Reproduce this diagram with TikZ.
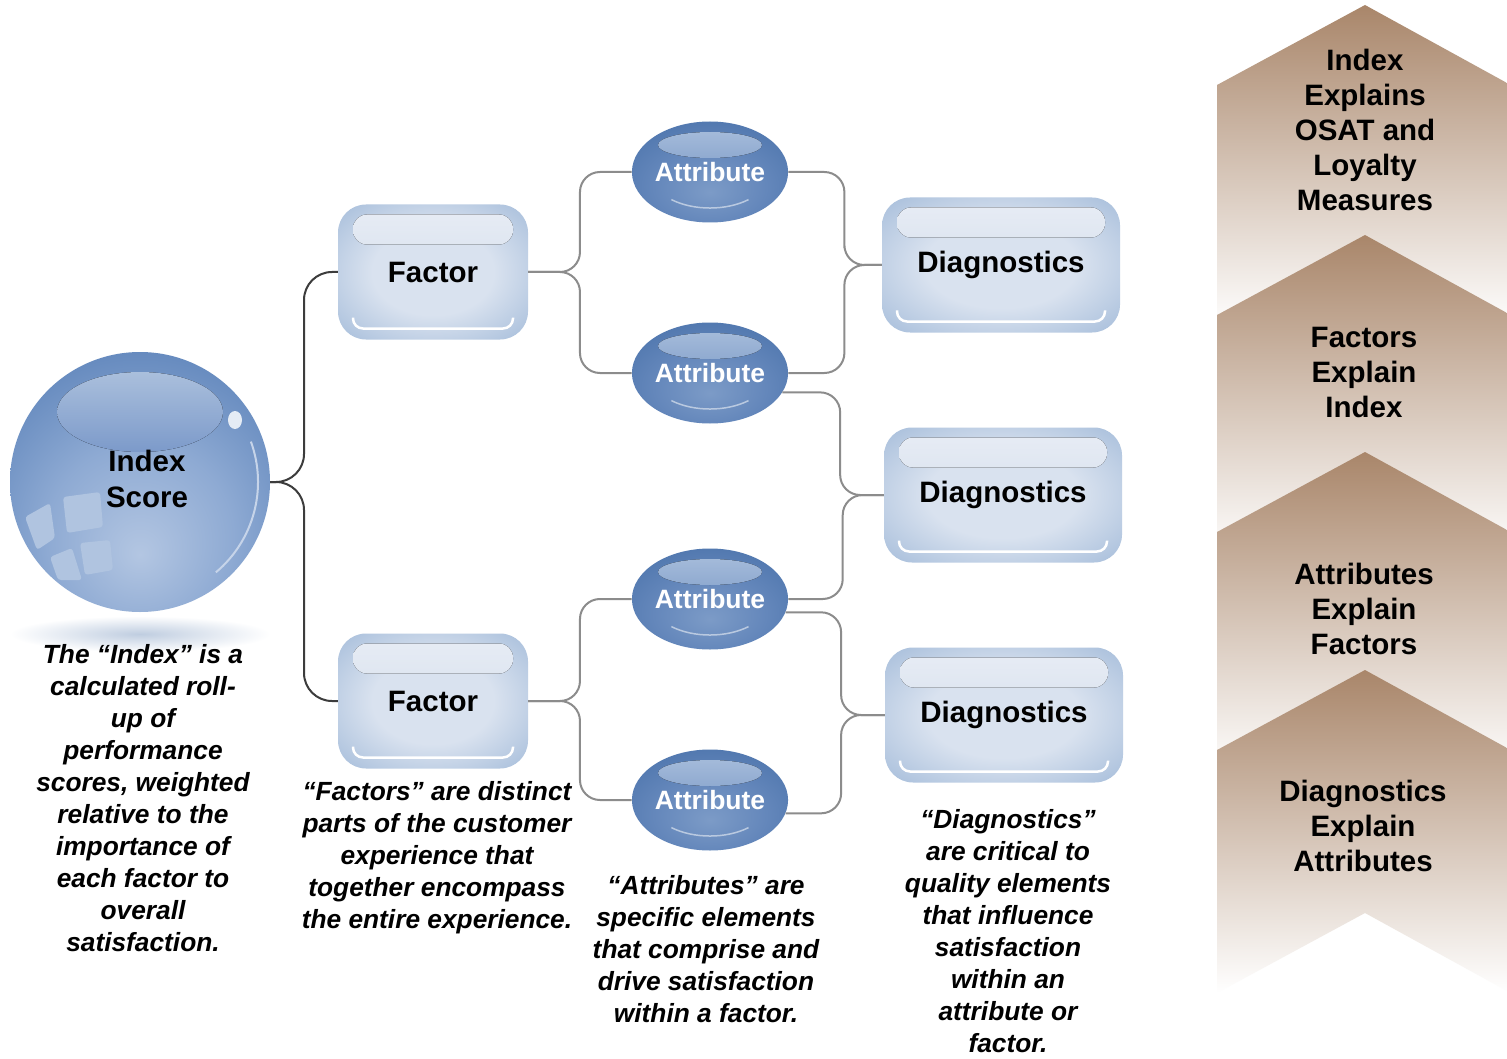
\documentclass[tikz,border=0pt]{standalone}
\usepackage{fontspec}
\setmainfont{Liberation Sans}
\usepackage{tikz}
\usetikzlibrary{shapes.geometric}
\usetikzlibrary{calc}

\definecolor{boxcore}{HTML}{D9E2EF}
\definecolor{boxmid}{HTML}{AAC0DC}
\definecolor{boxrim}{HTML}{8FAACF}
\definecolor{boxhitop}{HTML}{E8EDF5}
\definecolor{boxhibot}{HTML}{CBD7E8}
\definecolor{attrcore}{HTML}{7C9BC7}
\definecolor{attrinner}{HTML}{6487BB}
\definecolor{attrmid}{HTML}{4B73AB}
\definecolor{attrrim}{HTML}{3A6098}
\definecolor{attrhi}{HTML}{ABC0DD}
\definecolor{attrhibot}{HTML}{5F84BA}
\definecolor{ballcore}{HTML}{B3C6E2}
\definecolor{ballinner}{HTML}{8EAAD3}
\definecolor{ballmid}{HTML}{5F85BB}
\definecolor{ballrim}{HTML}{4670A7}
\definecolor{ballhi}{HTML}{AABFDC}
\definecolor{ballhibot}{HTML}{7C9ACA}
\definecolor{shadowblue}{HTML}{BFCDE0}
\definecolor{chevtop}{HTML}{A9866A}
\definecolor{chevmid}{HTML}{DCCFC5}
\definecolor{rootline}{HTML}{3C3C3C}
\definecolor{branchline}{HTML}{8C8C8C}

\pgfdeclareradialshading{boxglow}{\pgfpointorigin}{color(0bp)=(boxcore); color(16bp)=(boxcore); color(34bp)=(boxmid); color(46bp)=(boxrim); color(72bp)=(boxrim)}
\pgfdeclareradialshading{attrglow}{\pgfpoint{0bp}{-10bp}}{color(0bp)=(attrcore); color(18bp)=(attrinner); color(36bp)=(attrmid); color(48bp)=(attrrim); color(72bp)=(attrrim)}
\pgfdeclareradialshading{ballglow}{\pgfpoint{0bp}{-14bp}}{color(0bp)=(ballcore); color(18bp)=(ballinner); color(36bp)=(ballmid); color(52bp)=(ballrim); color(80bp)=(ballrim)}

\begin{document}
\begin{tikzpicture}[x=1pt,y=-1pt,
	glossbox/.style={rectangle, rounded corners=28pt, shade, shading=boxglow,
		minimum height=135pt, inner sep=0pt,
		font=\bfseries\fontsize{29.5}{35}\selectfont,
		path picture={
			\fill[top color=boxhitop, bottom color=boxhibot, rounded corners=14pt]
				([xshift=15pt,yshift=-10pt]path picture bounding box.north west) rectangle
				([xshift=-15pt,yshift=-40pt]path picture bounding box.north east);
			\draw[white, line width=2.5pt, rounded corners=10pt]
				([xshift=15pt,yshift=22pt]path picture bounding box.south west) |-
				([yshift=11pt]path picture bounding box.south) -|
				([xshift=-15pt,yshift=22pt]path picture bounding box.south east);
		}},
	factorbox/.style={glossbox, minimum width=190pt},
	diagbox/.style={glossbox, minimum width=238pt},
	attrnode/.style={ellipse, shade, shading=attrglow, minimum width=148pt,
		minimum height=101pt, inner sep=0pt, text=white,
		font=\bfseries\fontsize{26.5}{32}\selectfont,
		path picture={
			\fill[top color=attrhi, bottom color=attrhibot]
				([yshift=27pt]path picture bounding box.center) ellipse [x radius=52pt, y radius=13pt];
			\draw[white!55!attrinner, line width=1.5pt]
				([xshift=-38.6pt,yshift=-27.6pt]path picture bounding box.center)
				arc [start angle=230, end angle=310, x radius=60pt, y radius=36pt];
		}},
	ball/.style={circle, shade, shading=ballglow, minimum size=260pt, inner sep=0pt},
	chevron/.style={top color=chevtop, middle color=chevmid, bottom color=white},
	chevtext/.style={align=center, inner sep=0pt, font=\bfseries\fontsize{29.5}{35}\selectfont},
	desc/.style={align=center, inner sep=0pt, anchor=north,
		font=\bfseries\itshape\fontsize{26.3}{32}\selectfont},
	rootlink/.style={rootline, line width=2pt, rounded corners=28pt},
	link/.style={branchline, line width=2pt, rounded corners=20pt}]

	\fill[white] (0,0) rectangle (1507,1059);
	\useasboundingbox (0,0) rectangle (1507,1059);

	% chevrons on the right
	\shade[chevron] (1365,5) -- (1507,83) -- (1507,326) -- (1365,248) -- (1217,328) -- (1217,85) -- cycle;
	\shade[chevron] (1365,235) -- (1507,313) -- (1507,556) -- (1365,478) -- (1217,558) -- (1217,315) -- cycle;
	\shade[chevron] (1365,452) -- (1507,530) -- (1507,773) -- (1365,695) -- (1217,775) -- (1217,532) -- cycle;
	\shade[chevron] (1365,670) -- (1507,748) -- (1507,991) -- (1365,913) -- (1217,993) -- (1217,750) -- cycle;
	\node[chevtext] (chevindex) at (1365,130) {Index\\Explains\\OSAT and\\Loyalty\\Measures};
	\node[chevtext] (chevfactor) at (1364,372) {Factors\\Explain\\Index};
	\node[chevtext] (chevattr) at (1364,609) {Attributes\\Explain\\Factors};
	\node[chevtext] (chevdiag) at (1363,826) {Diagnostics\\Explain\\Attributes};

	% index sphere
	\shade[inner color=shadowblue, outer color=white] (140,634) ellipse [x radius=130pt, y radius=18pt];
	\node[ball] (idx) at (140,482) {};
	\fill[top color=ballhi, bottom color=ballhibot] ($(idx.center)+(0,-70)$) ellipse [x radius=83pt, y radius=40pt];
	\fill[white!70!ballhi] ($(idx.center)+(95,-62)$) ellipse [x radius=7pt, y radius=9pt];
	\draw[white!50!ballinner, line width=2pt] ($(idx.center)+(110.9,-40.4)$) arc [start angle=20, end angle=-50, radius=118pt];
	\fill[white!30!ballinner, rounded corners=3pt] ($(idx.center)+(-115,35)$) -- ($(idx.center)+(-90,21)$) -- ($(idx.center)+(-85,56)$) -- ($(idx.center)+(-103,68)$) -- cycle;
	\fill[white!30!ballinner, rounded corners=3pt] ($(idx.center)+(-77,15)$) -- ($(idx.center)+(-40,10)$) -- ($(idx.center)+(-37,45)$) -- ($(idx.center)+(-73,51)$) -- cycle;
	\fill[white!30!ballinner, rounded corners=3pt] ($(idx.center)+(-90,75)$) -- ($(idx.center)+(-68,66)$) -- ($(idx.center)+(-58,98)$) -- ($(idx.center)+(-82,98)$) -- cycle;
	\fill[white!30!ballinner, rounded corners=3pt] ($(idx.center)+(-60,61)$) -- ($(idx.center)+(-30,58)$) -- ($(idx.center)+(-27,88)$) -- ($(idx.center)+(-55,93)$) -- cycle;
	\node[align=center, font=\bfseries\fontsize{29.5}{36}\selectfont] (idxlabel) at ($(idx.center)+(7,-3)$) {Index\\Score};

	% factors, attributes, diagnostics
	\node[factorbox] (f1) at (433,272) {Factor};
	\node[factorbox] (f2) at (433,701) {Factor};
	\node[attrnode] (a1) at (710,172) {Attribute};
	\node[attrnode] (a2) at (710,373) {Attribute};
	\node[attrnode] (a3) at (710,599) {Attribute};
	\node[attrnode] (a4) at (710,800) {Attribute};
	\node[diagbox] (d1) at (1001,265) {Diagnostics};
	\node[diagbox] (d2) at (1003,495) {Diagnostics};
	\node[diagbox] (d3) at (1004,715) {Diagnostics};

	% brackets
	\draw[rootlink] (idx.east) -| ($(idx.east)!.5!(f1.west)$) |- (f1.west);
	\draw[rootlink] (idx.east) -| ($(idx.east)!.5!(f2.west)$) |- (f2.west);
	\draw[link] (f1.east) -| ($(f1.east)!.5!(a1.west)$) |- (a1.west);
	\draw[link] (f1.east) -| ($(f1.east)!.5!(a2.west)$) |- (a2.west);
	\draw[link] (f2.east) -| ($(f2.east)!.5!(a3.west)$) |- (a3.west);
	\draw[link] (f2.east) -| ($(f2.east)!.5!(a4.west)$) |- (a4.west);
	\draw[link] (a1.east) -| ($(a1.east)!.6!(d1.west)$) |- (d1.west);
	\draw[link] (a2.east) -| ($(a2.east)!.6!(d1.west)$) |- (d1.west);
	\draw[link] (a2.-15) -| ($(a2.-15)!.57!(d2.west)$) |- (d2.west);
	\draw[link] (a3.east) -| ($(a3.east)!.57!(d2.west)$) |- (d2.west);
	\draw[link] (a3.-10) -| ($(a3.-10)!.56!(d3.west)$) |- (d3.west);
	\draw[link] (a4.-10) -| ($(a4.-10)!.56!(d3.west)$) |- (d3.west);

	% notes
	\node[desc] (idxnote) at (143,644) {The “Index” is a\\calculated roll-\\up of\\performance\\scores, weighted\\relative to the\\importance of\\each factor to\\overall\\satisfaction.};
	\node[desc] (factornote) at (437,781) {“Factors” are distinct\\parts of the customer\\experience that\\together encompass\\the entire experience.};
	\node[desc] (attrnote) at (706,875) {“Attributes” are\\specific elements\\that comprise and\\drive satisfaction\\within a factor.};
	\node[desc] (diagnote) at (1008,809) {“Diagnostics”\\are critical to\\quality elements\\that influence\\satisfaction\\within an\\attribute or\\factor.};
\end{tikzpicture}
\end{document}
